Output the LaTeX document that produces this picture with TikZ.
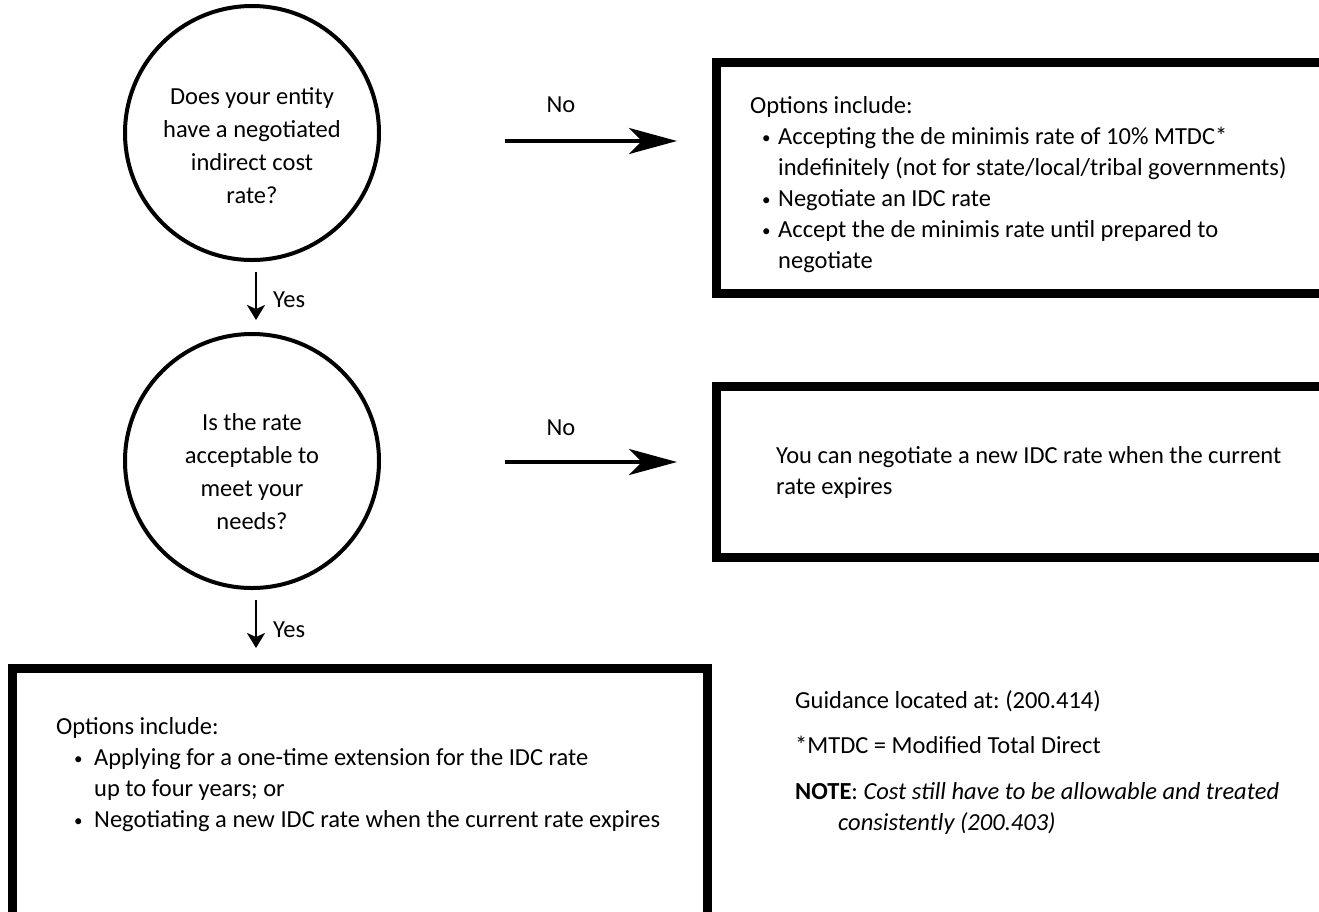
\documentclass[tikz,border=0pt]{standalone}
\usepackage{fontspec}
\setmainfont{Carlito}
\usetikzlibrary{arrows.meta}
\frenchspacing
\newcommand\bul{\makebox[28pt][l]{\hspace{12pt}\raisebox{1pt}{\fontsize{17}{17}\selectfont\textbullet}}}
\newcommand\ind{\hspace*{28pt}}
\newcommand\bulw{\makebox[38pt][l]{\hspace{18pt}\raisebox{1pt}{\fontsize{17}{17}\selectfont\textbullet}}}
\newcommand\indw{\hspace*{38pt}}
\begin{document}
\begin{tikzpicture}[x=1pt,y=-1pt,
  q/.style={circle, draw, line width=4pt, minimum size=254pt, inner sep=0pt},
  qtxt/.style={align=center, inner sep=0pt, font=\fontsize{24.5}{33}\selectfont},
  box/.style={draw, line width=9pt, inner sep=0pt, rectangle},
  txt/.style={align=left, anchor=north west, inner sep=0pt, font=\fontsize{24.5}{31}\selectfont},
  noarrow/.style={line width=4pt, -{Stealth[length=48pt,width=26pt,inset=13pt]}},
  yesarrow/.style={line width=2.5pt, -{Stealth[length=15pt,width=18pt,inset=4pt]}},
  lbl/.style={font=\fontsize{24.5}{28}\selectfont, inner sep=0pt}
]
\useasboundingbox (0,0) rectangle (1319,911);
\clip (0,0) rectangle (1319,911);

% questions
\node[q] (c1) at (252,133) {};
\node[qtxt] (c1t) at (252,146) {Does your entity\\have a negotiated\\indirect cost\\rate?};
\node[q] (c2) at (252,461) {};
\node[qtxt] (c2t) at (252,472) {Is the rate\\acceptable to\\meet your\\needs?};

% boxes
\node[box, minimum width=623.5pt, minimum height=231pt] (b1) at (1028.25,178) {};
\draw[line width=6pt] ([yshift=5pt]b1.south west) -- ([yshift=5pt]b1.south east);
\node[box, minimum width=623.5pt, minimum height=171pt] (b2) at (1028.25,472) {};
\node[box, minimum width=695pt, minimum height=271.5pt] (b3) at (360,804.25) {};

% box texts (y = first baseline - 21.7)
\node[txt] (b1t) at (750,92) {\strut Options include:\\
\bul Accepting the de minimis rate of 10\% MTDC*\\
\ind indefinitely (not for state/local/tribal governments)\\
\bul Negotiate an IDC rate\\
\bul Accept the de minimis rate until prepared to\\
\ind negotiate};

\node[txt] (b2t) at (776,442) {\strut You can negotiate a new IDC rate when the current\\rate expires};

\node[txt] (b3t) at (56,713) {\strut Options include:\\
\bulw Applying for a one-time extension for the IDC rate\\
\indw up to four years; or\\
\bulw Negotiating a new IDC rate when the current rate expires};

% notes
\node[txt] (n1) at (795,687) {\strut Guidance located at: (200.414)};
\node[txt] (n2) at (795,732) {\strut *MTDC = Modified Total Direct};
\node[txt] (n3) at (795,778) {\strut\textbf{NOTE}: \textit{Cost still have to be allowable and treated}\\\hspace*{43pt}\textit{consistently (200.403)}};

% connectors
\coordinate (no1s) at (505,141);
\coordinate (no1e) at (677,141);
\coordinate (no2s) at (505,462);
\coordinate (no2e) at (677,462);
\draw[noarrow] (no1s) -- (no1e);
\draw[noarrow] (no2s) -- (no2e);
\node[lbl] (lno1) at (561,105) {No};
\node[lbl] (lno2) at (561,428) {No};

\coordinate (y1s) at (256,272);
\coordinate (y1e) at (256,320);
\coordinate (y2s) at (256,600);
\coordinate (y2e) at (256,648);
\draw[yesarrow] (y1s) -- (y1e);
\draw[yesarrow] (y2s) -- (y2e);
\node[lbl, anchor=west] (lyes1) at (273,300) {Yes};
\node[lbl, anchor=west] (lyes2) at (273,630) {Yes};
\end{tikzpicture}
\end{document}
